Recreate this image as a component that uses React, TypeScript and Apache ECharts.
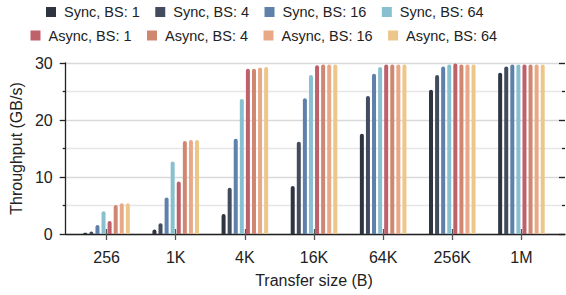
import React, { useEffect, useRef } from "react";
import * as echarts from "echarts";

const categories = ["256", "1K", "4K", "16K", "64K", "256K", "1M"];
const seriesNames = [
  "Sync, BS: 1",
  "Sync, BS: 4",
  "Sync, BS: 16",
  "Sync, BS: 64",
  "Async, BS: 1",
  "Async, BS: 4",
  "Async, BS: 16",
  "Async, BS: 64",
];
const syncBS1 = [0.2, 0.8, 3.5, 8.4, 17.6, 25.3, 28.3];
const syncBS4 = [0.45, 1.9, 8.1, 16.2, 24.2, 27.9, 29.4];
const syncBS16 = [1.6, 6.4, 16.7, 23.8, 28.1, 29.4, 29.75];
const syncBS64 = [4.0, 12.7, 23.7, 27.9, 29.3, 29.75, 29.75];
const asyncBS1 = [2.3, 9.2, 29.0, 29.6, 29.75, 29.9, 29.75];
const asyncBS4 = [5.1, 16.3, 29.0, 29.75, 29.75, 29.75, 29.75];
const asyncBS16 = [5.4, 16.5, 29.2, 29.75, 29.75, 29.75, 29.75];
const asyncBS64 = [5.4, 16.5, 29.3, 29.75, 29.75, 29.75, 29.75];
const seriesValues = [syncBS1, syncBS4, syncBS16, syncBS64, asyncBS1, asyncBS4, asyncBS16, asyncBS64];
const colors = ["#2E3440", "#434C5E", "#5E81AC", "#88C0D0", "#BF616A", "#D08770", "#E9A987", "#EDC68A"];

const FONT = "'Liberation Sans', Arial, Helvetica, sans-serif";
const TXT = "#222";

export default function App() {
  const ref = useRef<HTMLDivElement>(null);
  useEffect(() => {
    if (!ref.current) return;
    const chart = echarts.init(ref.current, undefined, { renderer: "svg" });
    const gridTop = 63;
    const gridBottom = 61;
    chart.setOption({
      animation: false,
      color: colors,
      textStyle: { fontFamily: FONT, color: TXT },
      legend: [
        {
          data: seriesNames.slice(0, 4),
          left: 46,
          top: 4.5,
          padding: 0,
          icon: "rect",
          itemWidth: 10,
          itemHeight: 10,
          itemGap: 15.5,
          textStyle: { fontSize: 14.5, fontFamily: FONT, color: TXT, padding: [0, 0, 0, 3] },
        },
        {
          data: seriesNames.slice(4),
          left: 30.5,
          top: 28,
          padding: 0,
          icon: "rect",
          itemWidth: 10,
          itemHeight: 10,
          itemGap: 15.5,
          textStyle: { fontSize: 14.5, fontFamily: FONT, color: TXT, padding: [0, 0, 0, 3] },
        },
      ],
      grid: [
        { left: 61, right: 1, top: gridTop, bottom: gridBottom },
        { left: 72, right: 10, top: gridTop, bottom: gridBottom },
      ],
      xAxis: [
        {
          type: "value",
          gridIndex: 0,
          min: 0,
          max: 1,
          axisLine: { show: true, onZero: false, lineStyle: { color: "#222", width: 1.3 } },
          axisTick: { show: false },
          axisLabel: { show: false },
          splitLine: { show: false },
        },
        {
          type: "category",
          gridIndex: 1,
          data: categories,
          axisLine: { show: false },
          axisTick: { show: true, alignWithLabel: true, length: 6, lineStyle: { color: "#555", width: 1.3 } },
          axisLabel: { fontSize: 16, color: TXT, margin: 15, fontFamily: FONT },
          name: "Transfer size (B)",
          nameLocation: "middle",
          nameGap: 38,
          nameTextStyle: { fontSize: 16, color: TXT, fontFamily: FONT },
        },
        {
          type: "category",
          gridIndex: 1,
          data: categories,
          position: "bottom",
          axisLine: { show: false },
          axisTick: { show: true, inside: true, alignWithLabel: true, length: 5, lineStyle: { color: "#555", width: 1.3 } },
          axisLabel: { show: false },
        },
      ],
      yAxis: [
        {
          type: "value",
          gridIndex: 0,
          min: 0,
          max: 30,
          interval: 10,
          axisLine: { show: true, lineStyle: { color: "#222", width: 1.3 } },
          axisTick: { show: true, length: 6, lineStyle: { color: "#222", width: 1.3 } },
          minorTick: { show: true, splitNumber: 2, length: 3, lineStyle: { color: "#222", width: 1.3 } },
          splitLine: { show: true, lineStyle: { color: "#d9d9d9", width: 1.3 } },
          minorSplitLine: { show: true, lineStyle: { color: "#e6e6e6", width: 1.3 } },
          axisLabel: { fontSize: 16, color: TXT, margin: 13, fontFamily: FONT },
          name: "Throughput (GB/s)",
          nameLocation: "middle",
          nameGap: 36,
          nameTextStyle: { fontSize: 16, color: TXT, fontFamily: FONT },
        },
        {
          type: "value",
          gridIndex: 0,
          min: 0,
          max: 30,
          interval: 10,
          axisLine: { show: false },
          axisTick: { show: true, inside: true, length: 6, lineStyle: { color: "#222", width: 1.3 } },
          minorTick: { show: true, splitNumber: 2, length: 3, lineStyle: { color: "#222", width: 1.3 } },
          splitLine: { show: false },
          axisLabel: { show: false },
        },
        {
          type: "value",
          gridIndex: 1,
          min: 0,
          max: 30,
          show: false,
        },
      ],
      series: seriesNames.map((name, i) => ({
        name,
        type: "bar",
        xAxisIndex: 1,
        yAxisIndex: 2,
        data: seriesValues[i],
        barWidth: 4,
        barGap: "52%",
        itemStyle: { color: colors[i], borderRadius: [2, 2, 0, 0] },
      })),
    });
    return () => chart.dispose();
  }, []);
  return <div ref={ref} style={{ width: 566, height: 295, position: "absolute", left: 0, top: 0 }} />;
}
